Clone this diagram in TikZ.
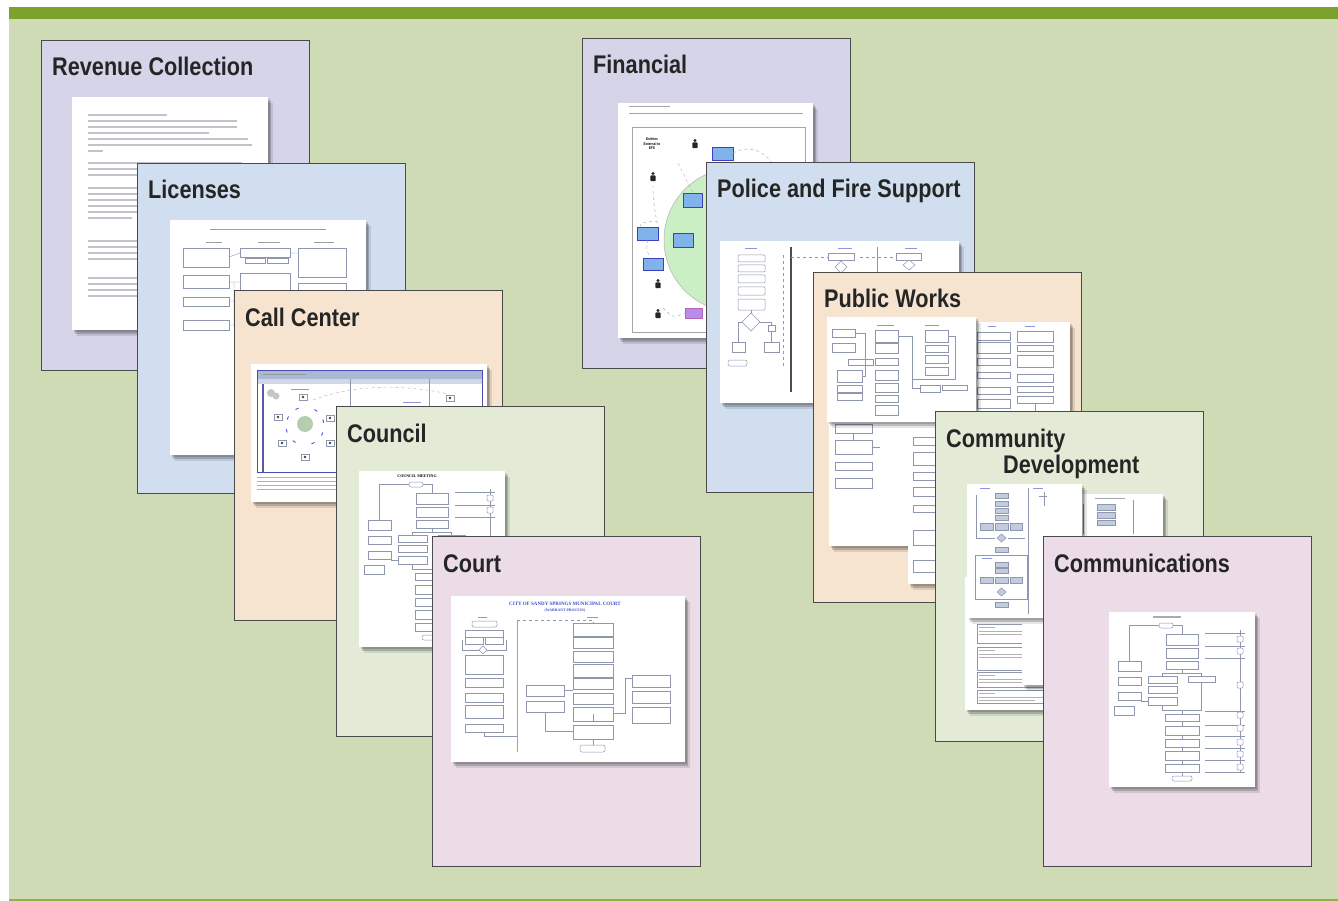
\documentclass[tikz,border=0pt]{standalone}
\usepackage{fontspec}
\setmainfont{Liberation Sans}
\newfontfamily\headfont[FakeStretch=0.85]{Liberation Sans}
\newfontfamily\docfont{Liberation Serif}
\usetikzlibrary{shadows}
\definecolor{topbar}{HTML}{7AA22C}
\definecolor{panel}{HTML}{CEDBB5}
\definecolor{lav}{HTML}{D5D4E8}
\definecolor{sky}{HTML}{D1DEEF}
\definecolor{peach}{HTML}{F7E4D0}
\definecolor{sage}{HTML}{E3EBD7}
\definecolor{rose}{HTML}{EBDCE7}
\definecolor{edge}{HTML}{4A4A4A}
\definecolor{ink}{HTML}{252525}
\definecolor{boxc}{HTML}{8E97AD}
\definecolor{boxf}{HTML}{C3CCDF}
\definecolor{txtg}{HTML}{C2C2C8}
\definecolor{docblue}{HTML}{3F4FCF}
\definecolor{efsblue}{HTML}{7FB3EA}
\definecolor{efsgreen}{HTML}{CBEFC4}
\definecolor{efspurple}{HTML}{B98BEF}
\definecolor{ccbar}{HTML}{A9B8D4}
\tikzset{
  card/.style={draw=edge, line width=1.4pt, anchor=north west, minimum width=268pt, minimum height=330pt, inner sep=0pt},
  ttl/.style={anchor=base west, inner sep=0pt, text=ink, font=\headfont\bfseries\fontsize{25.5}{28}\selectfont},
  thumb/.style={fill=white,
    drop shadow={shadow xshift=5pt, shadow yshift=-6pt, opacity=0.1, fill=black},
    drop shadow={shadow xshift=3pt, shadow yshift=-4pt, opacity=0.18, fill=black},
    drop shadow={shadow xshift=1.5pt, shadow yshift=-2pt, opacity=0.15, fill=black}},
  bx/.style={draw=boxc, line width=0.5pt, fill=white},
  bxf/.style={draw=boxc, line width=0.5pt, fill=boxf},
  ln/.style={draw=boxc, line width=0.4pt},
  txl/.style={draw=txtg, line width=1.6pt},
  hd/.style={draw=docblue!60, line width=0.8pt},
  tiny/.style={inner sep=0pt, font=\docfont\bfseries\fontsize{4}{4.5}\selectfont},
  person/.pic={\fill[black!85] (0,-4.5) circle[radius=1.7]; \fill[black!85, rounded corners=0.8pt] (-2.6,-2.6) rectangle (2.6,3.2);},
  icon/.pic={\draw[bx, line width=0.4pt] (-4,-3) rectangle (4,3); \fill[black!75] (0,0) circle[radius=1.3];},
}
% flowchart shared by the council and communications pages
\newcommand\meetchart{%
  \draw[bx, rounded corners=2pt] (50,11) rectangle (64,16);
  \draw[ln] (64,13.5) -| (73,22) (50,13.5) -| (20,49);
  \foreach \a/\b in {22/33,36/46,49/57} \draw[bx] (57,\a) rectangle (89,\b);
  \draw[ln] (73,57) -- (73,61) (53,61) -- (92,61) (53,61) -- (53,64) (92,61) -- (92,64);
  \foreach \a/\b in {64/71,74/81,85/93} \draw[bx] (39,\a) rectangle (68,\b);
  \draw[bx] (79,64) rectangle (106,70);
  \foreach \a/\b in {49/59,65/73,80/88} \draw[bx] (9,\a) rectangle (32,\b);
  \draw[bx] (5,94) rectangle (25,103);
  \draw[ln] (32,89) -- (39,89) (53,93) -- (53,98) -- (92,98) -- (92,70) (73,98) -- (73,102);
  \foreach \a/\b in {102/109,114/123,127/135,139/148,152/160} \draw[bx] (56,\a) rectangle (90,\b);
  \foreach \a/\b in {109/114,123/127,135/139,148/152,160/164} \draw[ln] (73,\a) -- (73,\b);
  \draw[bx, rounded corners=2pt] (63,164) rectangle (83,169);
  \foreach \y in {21,34,46,99,113,124,136,148,160} \draw[ln] (96,\y) -- (136,\y);
  \draw[ln] (131,18) -- (131,160);
  \foreach \a in {24,36,70,100,113,127,139,152} \draw[bx, rounded corners=1pt] (128,\a) rectangle (134,\a+6);
}

\begin{document}
\begin{tikzpicture}[x=1pt, y=-1pt]
  \useasboundingbox[fill=white] (0,0) rectangle (1338,901);
  \fill[topbar] (9,7) rectangle (1338,19);
  \fill[panel] (9,19) rectangle (1338,899);
  \fill[topbar!75!panel] (9,899) rectangle (1338,901);

  %% left stack
  \node[card, fill=lav] (rev) at (41,40) {};
  \node[ttl] (revt) at ([shift={(11,36)}]rev.north west) {Revenue Collection};
  \fill[thumb] (72,97) rectangle (268,330);
  \begin{scope}[shift={(72,97)}]
    \foreach \y/\w in {18/95,24/165,30/165,36/137,42/176,48/180,54/31,
                       66/170,72/170,78/120,
                       91/170,97/170,103/165,109/172,115/168,121/60,
                       144/150,150/170,156/165,162/70,
                       181/160,187/172,193/165,199/80}
      \draw[txl] (16,\y) -- (\w,\y);
  \end{scope}

  \node[card, fill=sky] (lic) at (137,163) {};
  \node[ttl] (lict) at ([shift={(11,36)}]lic.north west) {Licenses};
  \fill[thumb] (170,220) rectangle (366,455);
  \begin{scope}[shift={(170,220)}]
    \draw[draw=gray!75, line width=1pt] (40,10) -- (156,10);
    \draw[draw=gray!75, line width=0.6pt] (36,22) -- (52,22) (88,22) -- (110,22) (144,22) -- (164,22);
    \foreach \a/\b in {28/47,55/68,77/86,100/110} \draw[bx] (13,\a) rectangle (59,\b);
    \draw[bx] (70,28) rectangle (120,37);
    \draw[bx] (75,38) rectangle (95,43); \draw[bx] (97,38) rectangle (118,43);
    \draw[bx] (70,53) rectangle (120,70);
    \draw[bx] (128,28) rectangle (176,57);
    \draw[bx] (128,63) rectangle (176,70);
    \draw[ln] (59,37) -- (70,33) (59,62) -- (70,62) (59,81) -- (64,81) (59,105) -- (64,105) (64,105) -- (64,62) (120,33) -- (128,33);
  \end{scope}

  \node[card, fill=peach] (call) at (234,290) {};
  \node[ttl] (callt) at ([shift={(11,36)}]call.north west) {Call Center};
  \fill[thumb] (251,364) rectangle (487,502);
  \begin{scope}[shift={(251,364)}]
    \fill[ccbar] (6,6) rectangle (231,15);
    \fill[ccbar!55] (6,15) rectangle (231,20);
    \draw[gray!60!blue, line width=0.7pt] (6,6) rectangle (231,108);
    \draw[gray!80, line width=0.8pt] (12,10.5) -- (55,10.5);
    \draw[gray!70!blue, line width=1.4pt] (12,20) -- (12,108);
    \draw[ln] (99,15) -- (99,108) (178,15) -- (178,108);
    \fill[gray!45] (20,29) circle[radius=4] (25,32) circle[radius=3.5];
    \draw[gray!60, dashed, line width=0.4pt] (62,36) .. controls (110,18) and (160,22) .. (198,30);
    \draw[hd, line width=0.6pt] (40,25) -- (58,25) (152,38) -- (170,38) (152,42) -- (168,42);
    \fill[efsgreen!70!gray] (54,60) circle[radius=8];
    \foreach \p in {(52,33),(27,53),(79,54),(31,79),(79,79),(54,93),(199,34)} \pic at \p {icon};
    \foreach \a in {20,60,120,160,200,240,300,340}
      \draw[blue!70, line width=0.9pt] ([shift={(\a:19)}]54,62) -- ([shift={(\a+10:19)}]54,62);
    \foreach \y in {113,117,121,125} \draw[draw=gray!60, line width=0.9pt] (6,\y) -- (110,\y);
  \end{scope}

  \node[card, fill=sage] (cncl) at (336,406) {};
  \node[ttl] (cnclt) at ([shift={(11,36)}]cncl.north west) {Council};
  \fill[thumb] (359,471) rectangle (505,647);
  \begin{scope}[shift={(359,471)}]
    \node[tiny] (cnclhd) at (58,5) {COUNCIL MEETING};
    \meetchart
  \end{scope}

  \node[card, fill=rose] (court) at (432,536) {};
  \node[ttl] (courtt) at ([shift={(11,36)}]court.north west) {Court};
  \fill[thumb] (451,596) rectangle (685,762);
  \begin{scope}[shift={(451,596)}]
    \node[tiny, text=docblue, font=\docfont\bfseries\fontsize{5}{6}\selectfont] (courthd) at (114,8) {CITY OF SANDY SPRINGS MUNICIPAL COURT};
    \node[tiny, text=docblue, font=\docfont\bfseries\fontsize{3.8}{4}\selectfont] (courtsub) at (114,15) {(WARRANT PROCESS)};
    \draw[hd, line width=0.5pt] (27,21) -- (36,21) (136,21) -- (147,21);
    \draw[bx, rounded corners=2pt] (21,25) rectangle (46,31);
    \draw[bx] (14,34) rectangle (52,41);
    \draw[bx] (14,41) rectangle (32,48); \draw[bx] (34,41) rectangle (52,48);
    \draw[ln] (11,44) -- (11,54) -- (55,54) -- (55,44);
    \draw[bx] (32,50) -- (36,54) -- (32,58) -- (28,54) -- cycle;
    \foreach \a/\b in {59/78,82/91,97/106,109/122,128/136} \draw[bx] (14,\a) rectangle (52,\b);
    \draw[ln] (33,136) -- (33,140) -- (66,140);
    \draw[docblue!55, line width=0.8pt] (66,24) -- (66,156);
    \draw[ln, dashed] (66,24) -- (142,24) -- (142,27);
    \draw[bx] (75,89) rectangle (113,100); \draw[bx] (75,105) rectangle (113,116);
    \draw[ln] (94,116) -- (94,135) -- (122,135) (113,94) -- (122,94);
    \foreach \a/\b in {27/40,41/52,55/66,68/81,82/93,97/108,111/125,129/143} \draw[bx] (122,\a) rectangle (162,\b);
    \draw[ln] (142,118) -- (142,125);
    \draw[bx, rounded corners=2pt] (129,149) rectangle (154,156);
    \draw[ln] (142,143) -- (142,149) (162,117) -- (174,117) -- (174,82) -- (181,82);
    \foreach \a/\b in {79/91,95/107,111/127} \draw[bx] (181,\a) rectangle (219,\b);
  \end{scope}

  %% right stack
  \node[card, fill=lav] (fin) at (582,38) {};
  \node[ttl] (fint) at ([shift={(11,36)}]fin.north west) {Financial};
  \fill[thumb] (618,103) rectangle (813,338);
  \begin{scope}[shift={(618,103)}]
    \draw[draw=gray!70, line width=0.7pt] (11,3) -- (52,3) (11,10) -- (185,10);
    \begin{scope}
      \clip (14,24) rectangle (187,229);
      \filldraw[fill=efsgreen, draw=gray!60, line width=0.5pt] (118,137) circle[radius=72];
    \end{scope}
    \draw[draw=gray!70, line width=0.5pt] (14,24) rectangle (187,229);
    \node[tiny, align=center, font=\headfont\bfseries\fontsize{3.8}{4.4}\selectfont] (finent) at (34,41) {Entities\\External to\\EFS};
    \foreach \p in {(77,42),(35,75),(40,182),(40,212)} \pic at \p {person};
    \foreach \a/\b/\c/\d in {94/44/115/57,65/90/84/104,19/124/40/137,55/130/75/144,25/155/45/167}
      \filldraw[fill=efsblue, draw=blue!50!gray, line width=0.4pt] (\a,\b) rectangle (\c,\d);
    \filldraw[fill=efspurple, draw=violet!60, line width=0.4pt] (67,205) rectangle (84,215);
    \draw[gray!70, dashed, line width=0.4pt] (115,50) .. controls (135,40) and (150,50) .. (160,70)
      (35,82) .. controls (35,100) and (38,115) .. (40,124) (30,137) .. controls (28,145) .. (32,155)
      (45,205) .. controls (55,215) .. (67,210) (60,60) .. controls (65,70) .. (75,90) (40,118) .. controls (30,118) and (20,120) .. (22,124);
  \end{scope}

  \node[card, fill=sky] (pol) at (706,162) {};
  \node[ttl] (polt) at ([shift={(11,36)}]pol.north west) {Police and Fire Support};
  \fill[thumb] (720,241) rectangle (959,403);
  \begin{scope}[shift={(720,241)}]
    \draw[hd] (25,7) -- (37,7) (118,7) -- (132,7) (185,7) -- (197,7);
    \foreach \a/\b in {14/21,24/31,34/42,46/54,58/69} \draw[bx, rounded corners=1pt] (18,\a) rectangle (45,\b);
    \draw[bx] (31,72) -- (40,81) -- (31,90) -- (22,81) -- cycle;
    \draw[ln] (31,69) -- (31,72) (22,81) -- (18,81) -- (18,101) (40,81) -- (51,81) -- (51,101);
    \draw[bx] (12,101) rectangle (25,111); \draw[bx] (44,101) rectangle (59,111);
    \draw[bx] (48,84) rectangle (55,90);
    \draw[bx, rounded corners=2pt] (8,119) rectangle (27,125);
    \draw[ln, dashed] (63,14) -- (63,125);
    \draw[black!70, line width=1.2pt] (71,6) -- (71,151);
    \draw[ln, dashed] (71,16) -- (108,16) (140,16) -- (176,16);
    \draw[bx] (108,12) rectangle (134,19);
    \draw[bx] (121,20) -- (127,26) -- (121,32) -- (115,26) -- cycle;
    \draw[ln] (157,6) -- (157,80);
    \draw[bx] (176,12) rectangle (201,19);
    \draw[bx] (189,19) -- (195,24) -- (189,29) -- (183,24) -- cycle;
  \end{scope}

  \node[card, fill=peach] (pw) at (813,272) {};
  \node[ttl] (pwt) at ([shift={(11,36)}]pw.north west) {Public Works};
  \fill[thumb] (829,410) rectangle (909,546);
  \foreach \a/\b in {424/433,440/454,462/470,478/488} \draw[bx] (835,\a) rectangle (872,\b);
  \draw[ln] (853,433) -- (853,440) (872,447) -- (880,447);
  \fill[thumb] (908,410) rectangle (966,584);
  \foreach \a/\b in {437/445,452/465,472/480,487/496,505/512,530/545,560/572} \draw[bx] (913,\a) rectangle (950,\b);
  \fill[thumb] (976,322) rectangle (1070,420);
  \begin{scope}[shift={(976,322)}]
    \draw[hd, line width=0.6pt] (12,4) -- (20,4) (49,4) -- (59,4);
    \foreach \a/\b in {10/18,20/31,36/43,50/56,65/72,77/86} \draw[bx] (1,\a) rectangle (34,\b);
    \foreach \a/\b in {9/20,23/29,33/45,52/60,64/70,74/81} \draw[bx] (41,\a) rectangle (77,\b);
    \draw[ln] (59,81) -- (59,90);
  \end{scope}
  \fill[thumb] (827,317) rectangle (976,422);
  \begin{scope}[shift={(827,317)}]
    \draw[hd, line width=0.6pt] (50,8) -- (67,8) (98,8) -- (112,8);
    \foreach \a/\b in {12/20,26/35} \draw[bx] (5,\a) rectangle (28,\b);
    \foreach \a/\b in {13/25,26/36,41/48,53/63,66/75,78/85,88/98} \draw[bx] (48,\a) rectangle (71,\b);
    \foreach \a/\b in {53/65,68/75,76/83} \draw[bx] (10,\a) rectangle (35,\b);
    \draw[bx] (21,42) rectangle (46,48);
    \foreach \a/\b in {13/25,28/35,38/46,50/58} \draw[bx] (98,\a) rectangle (121,\b);
    \draw[bx] (93,68) rectangle (113,75); \draw[bx] (115,68) rectangle (140,73);
    \draw[ln] (28,16) -- (38,16) -- (38,59) -- (35,59) (71,19) -- (85,19) -- (85,71) -- (93,71) (121,19) -- (128,19) -- (128,62) -- (85,62);
  \end{scope}

  \node[card, fill=sage] (cdev) at (935,411) {};
  \node[ttl] (cdevt) at ([shift={(11,36)}]cdev.north west) {Community};
  \node[ttl] (cdevt2) at ([shift={(68,62)}]cdev.north west) {Development};
  \fill[thumb] (965,577) rectangle (1060,710);
  \begin{scope}[shift={(965,577)}]
    \foreach \a/\b in {47/66,70/93,95/110,113/126} {
      \draw[bx] (12,\a) rectangle (80,\b);
      \draw[draw=gray!60, line width=0.7pt] (14,\a+3) -- (30,\a+3) (14,\a+7) -- (78,\a+7) (14,\a+10) -- (70,\a+10);
    }
  \end{scope}
  \fill[thumb] (1022,491) rectangle (1075,685);
  \fill[thumb] (1075,494) rectangle (1163,600);
  \begin{scope}[shift={(1075,494)}]
    \draw[gray!70, line width=0.6pt] (20,4) -- (50,4);
    \foreach \a/\b in {10/16,18/24,26/31} \draw[bxf] (22,\a) rectangle (40,\b);
    \draw[ln] (8,10) -- (8,40) (58,6) -- (58,40);
  \end{scope}
  \fill[thumb] (967,484) rectangle (1082,618);
  \begin{scope}[shift={(967,484)}]
    \draw[hd, line width=0.5pt] (13,4) -- (23,4) (66,4) -- (76,4);
    \draw[ln] (9,11) -- (9,54) (61,4) -- (61,130) (9,54) -- (28,54) (41,54) -- (58,54);
    \foreach \a/\b in {9/14,17/22,24/29,31/36,63/68} \draw[bxf] (28,\a) rectangle (41,\b);
    \foreach \x/\w in {13/26,28/41,43/55} \draw[bxf] (\x,39) rectangle (\w,46);
    \draw[bxf] (34.5,50) -- (39,54) -- (34.5,58) -- (30,54) -- cycle;
    \draw[ln] (8,71) rectangle (60,115);
    \draw[hd, line width=0.5pt] (15,74) -- (25,74);
    \foreach \a/\b in {78/83,84/89,118/123} \draw[bxf] (28,\a) rectangle (41,\b);
    \foreach \x/\w in {13/26,28/41,43/55} \draw[bxf] (\x,93) rectangle (\w,99);
    \draw[bxf] (34.5,104) -- (39,108) -- (34.5,112) -- (30,108) -- cycle;
    \draw[ln] (72,12) -- (80,12) (77,8) -- (77,22);
  \end{scope}

  \node[card, fill=rose] (comm) at (1043,536) {};
  \node[ttl] (commt) at ([shift={(11,36)}]comm.north west) {Communications};
  \fill[thumb] (1109,612) rectangle (1255,787);
  \begin{scope}[shift={(1109,612)}]
    \draw[draw=gray!65, line width=1.1pt] (44,5) -- (72,5);
    \meetchart
  \end{scope}
\end{tikzpicture}
\end{document}
